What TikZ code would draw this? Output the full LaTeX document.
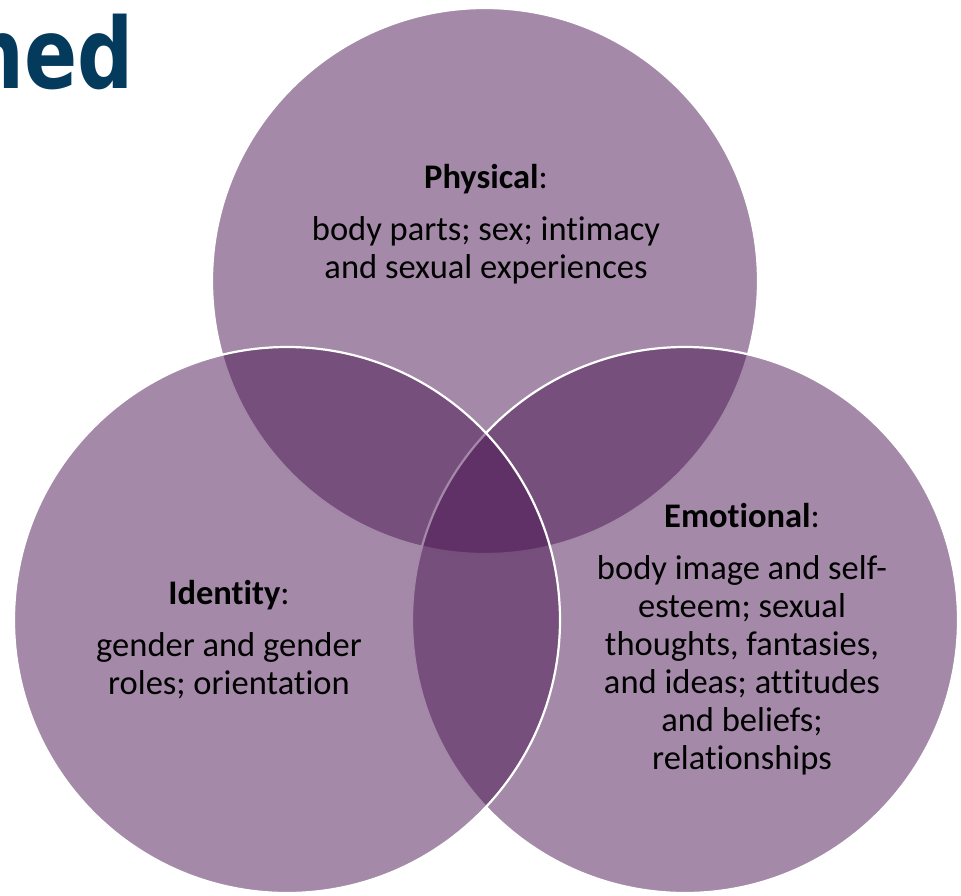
\documentclass[tikz,border=0pt]{standalone}
\usepackage{fontspec}
\setmainfont{Carlito}[Ligatures={TeX,NoCommon}]
\newfontfamily\headfont{DejaVu Sans}[FakeStretch=0.8]
\definecolor{vennpurple}{RGB}{73,21,81}
\definecolor{headblue}{RGB}{4,58,92}

\begin{document}
\begin{tikzpicture}[x=1pt, y=-1pt, line cap=round, line join=round,
	venn/.style={circle, minimum size=546pt, inner sep=0pt,
		fill=vennpurple, fill opacity=0.5, draw=white, draw opacity=1, line width=2.2pt},
	label/.style={align=center, text=black, font=\fontsize{34.5}{38}\selectfont}]
	
	\useasboundingbox (0,0) rectangle (961,895);
	
	%========================
	% circles (top, right, left)
	%========================
	\node[venn] (phys) at (485,281) {};
	\node[venn] (emot) at (685,620) {};
	\node[venn] (iden) at (287,620) {};
	
	%========================
	% texts
	%========================
	\node[label] (physT) at (486,224)
	{\textbf{Physical}:\\[14pt]
		body parts; sex; intimacy\\
		and sexual experiences};
	\node[label] (emotT) at (742,639)
	{\textbf{Emotional}:\\[14pt]
		body image and self-\\
		esteem; sexual\\
		thoughts, fantasies,\\
		and ideas; attitudes\\
		and beliefs;\\
		relationships};
	\node[label] (idenT) at (229,640)
	{\textbf{Identity}:\\[14pt]
		gender and gender\\
		roles; orientation};
	
	% cut-off heading
	\node[anchor=base east, inner sep=0pt, text=headblue,
	font=\headfont\bfseries\fontsize{98}{100}\selectfont] (head) at (134,88) {ned};
\end{tikzpicture}
\end{document}
